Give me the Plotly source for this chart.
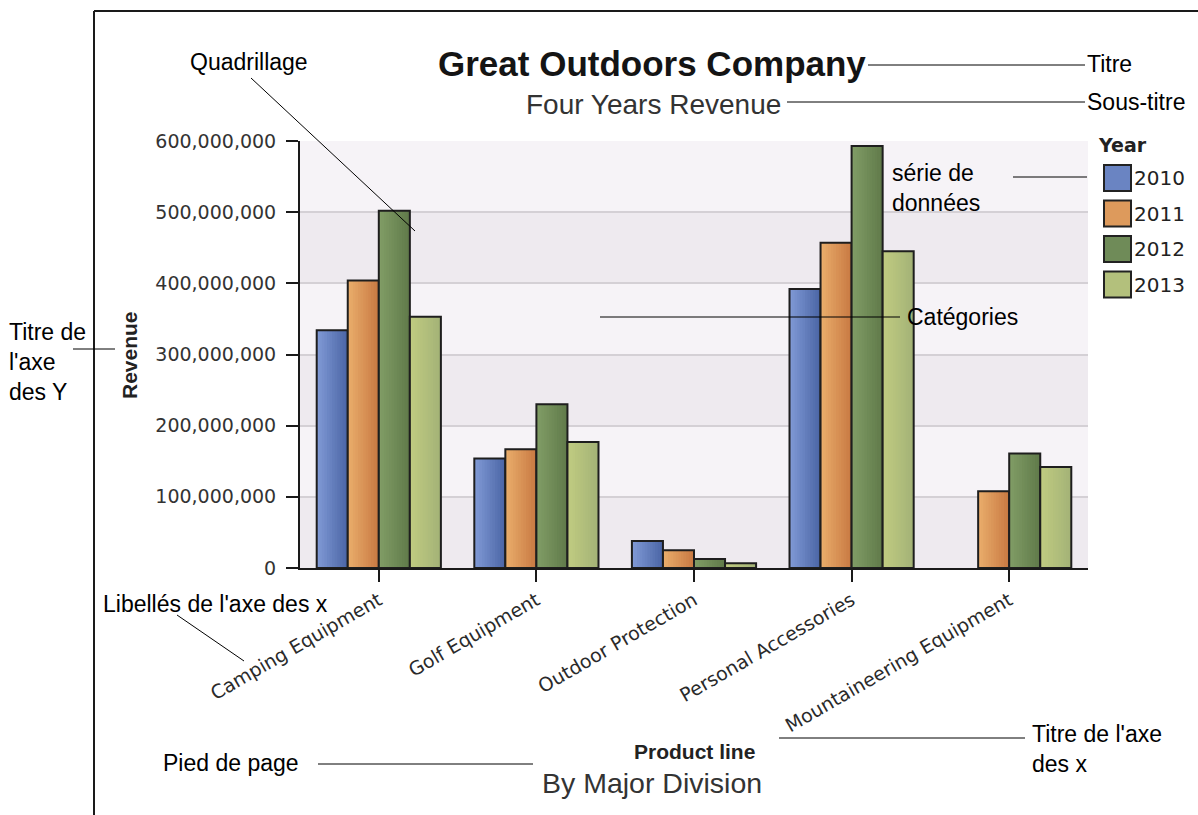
import plotly.graph_objects as go

# ---- data -----------------------------------------------------------------
categories = ["Camping Equipment", "Golf Equipment", "Outdoor Protection",
              "Personal Accessories", "Mountaineering Equipment"]
years = ["2010", "2011", "2012", "2013"]
rev_2010 = [334e6, 154e6, 38e6, 392e6, None]
rev_2011 = [404e6, 167e6, 25e6, 457e6, 108e6]
rev_2012 = [502e6, 230e6, 12.6e6, 593e6, 161e6]
rev_2013 = [353e6, 177e6, 6.6e6, 445e6, 142e6]
y_ticks = [0, 100e6, 200e6, 300e6, 400e6, 500e6, 600e6]

series = [rev_2010, rev_2011, rev_2012, rev_2013]

# ---- styling --------------------------------------------------------------
# (left, right) colours of the horizontal gradient on each series' bars
gradients = [("#7f98d4", "#4c67a7"),
             ("#e9ac6a", "#c97b44"),
             ("#809c65", "#617b4b"),
             ("#c0cb81", "#a4b377")]
swatch = ["#6a84c2", "#dd9a5c", "#6f8b58", "#b3c07c"]

W, H = 1198, 815
PL, PR, PT, PB = 300, 1088, 141, 568          # plot area in page pixels
BAR_W = 0.197                                  # bar width in category units
N_STRIPS = 12


def fx(px):
    return (px - PL) / (PR - PL)


def fy(py):
    return (PB - py) / (PB - PT)


def lerp(c1, c2, t):
    a = [int(c1[i:i + 2], 16) for i in (1, 3, 5)]
    b = [int(c2[i:i + 2], 16) for i in (1, 3, 5)]
    return "rgb(%d,%d,%d)" % tuple(round(a[j] + (b[j] - a[j]) * t) for j in range(3))


fig = go.Figure()

for i, (name, vals) in enumerate(zip(years, series)):
    base_off = -2 * BAR_W + i * BAR_W
    light, dark = gradients[i]
    # gradient fill: successively narrower, darker bars stacked from the left
    for k in range(N_STRIPS):
        step = k * BAR_W / N_STRIPS
        fig.add_trace(go.Bar(
            x=categories, y=vals, name=name,
            offset=base_off + step, width=BAR_W - step,
            marker=dict(color=lerp(light, dark, k / (N_STRIPS - 1)), line=dict(width=0)),
            showlegend=False, hoverinfo="skip"))
    # outline
    fig.add_trace(go.Bar(
        x=categories, y=vals, name=name,
        offset=base_off, width=BAR_W,
        marker=dict(color="rgba(0,0,0,0)", line=dict(color="#1e1e1e", width=2)),
        showlegend=False))

shapes = []
# alternating background bands
for j in range(0, len(y_ticks) - 1, 2):
    shapes.append(dict(type="rect", xref="paper", yref="y", x0=0, x1=1,
                       y0=y_ticks[j], y1=y_ticks[j + 1],
                       fillcolor="#eeeaef", line=dict(width=0), layer="below"))

# outer frame
shapes.append(dict(type="line", xref="paper", yref="paper",
                   x0=fx(94), x1=fx(W + 5), y0=fy(11), y1=fy(11),
                   line=dict(color="#1a1a1a", width=2)))
shapes.append(dict(type="line", xref="paper", yref="paper",
                   x0=fx(94), x1=fx(94), y0=fy(11), y1=fy(H + 5),
                   line=dict(color="#1a1a1a", width=2)))

# callout leader lines
leaders = [
    ((868, 65), (1085, 65)),
    ((787, 102), (1085, 102)),
    ((1013, 177), (1087, 177)),
    ((600, 317), (900, 317)),
    ((251, 78), (415, 231)),
    ((73, 349), (115, 349)),
    ((177, 615), (244, 661)),
    ((318, 764), (533, 764)),
    ((779, 738), (1025, 738)),
]
for (x0, y0), (x1, y1) in leaders:
    shapes.append(dict(type="line", xref="paper", yref="paper",
                       x0=fx(x0), y0=fy(y0), x1=fx(x1), y1=fy(y1),
                       line=dict(color="#000000", width=1)))

# legend swatches
for i in range(len(years)):
    cy = 178 + i * 35.5
    shapes.append(dict(type="rect", xref="paper", yref="paper",
                       x0=fx(1104), x1=fx(1131), y0=fy(cy - 13), y1=fy(cy + 13),
                       fillcolor=swatch[i], line=dict(color="#222222", width=2)))

annotations = []


def note(text, x, y, size, color="#000000", family="Liberation Sans, Arial, sans-serif",
         xanchor="left", angle=0, yanchor="middle", align="left"):
    annotations.append(dict(text=text, x=fx(x), y=fy(y), xref="paper", yref="paper",
                            xanchor=xanchor, yanchor=yanchor, showarrow=False,
                            textangle=angle, align=align, borderpad=0,
                            font=dict(size=size, color=color, family=family)))


# titles
note("<b>Great Outdoors Company</b>", 652, 63, 35, "#141414", xanchor="center")
note("Four Years Revenue", 653, 105, 28, "#333333", xanchor="center")
note("<b>Product line</b>", 694, 751, 21, "#222222", xanchor="center")
note("By Major Division", 652, 783, 28.5, "#333333", xanchor="center")
note("<b>Revenue</b>", 129, 355, 21, "#222222", xanchor="center", angle=-90)

# legend
note("<b>Year</b>", 1097, 145, 19, "#222222", family="DejaVu Sans, sans-serif")
for i, name in enumerate(years):
    note(name, 1133, 178 + i * 35.5, 20, "#222222", family="DejaVu Sans, sans-serif")

# callout labels
note("Titre", 1086, 64, 23)
note("Sous-titre", 1086, 102, 23)
note("série de<br>données", 891, 188, 23)
note("Catégories", 906, 317, 23)
note("Quadrillage", 249, 62, 23, xanchor="center")
note("Titre de<br>l'axe<br>des Y", 8, 362, 23)
note("Libellés de l'axe des x", 102, 604, 23)
note("Pied de page", 162, 763, 23)
note("Titre de l'axe<br>des x", 1031, 749, 23)

fig.update_layout(
    width=W, height=H, autosize=False,
    margin=dict(l=PL, r=W - PR, t=PT, b=H - PB, pad=0),
    paper_bgcolor="#ffffff", plot_bgcolor="#f6f3f7",
    barmode="overlay", showlegend=False,
    shapes=shapes, annotations=annotations,
    xaxis=dict(type="category", range=[-0.5, len(categories) - 0.5],
               showgrid=False, showline=True, linecolor="#1a1a1a", linewidth=2,
               ticks="outside", ticklen=12, tickwidth=2, tickcolor="#1a1a1a",
               tickangle=-30, zeroline=False,
               tickfont=dict(family="DejaVu Sans, sans-serif", size=19, color="#2a2a2a")),
    yaxis=dict(range=[0, 600e6], tickvals=y_ticks, tickformat=",",
               showgrid=True, gridcolor="#d4d0d5", gridwidth=1.5,
               showline=True, linecolor="#1a1a1a", linewidth=2,
               ticks="outside", ticklen=12, tickwidth=2, tickcolor="#1a1a1a",
               ticklabelstandoff=6, zeroline=False,
               tickfont=dict(family="DejaVu Sans, sans-serif", size=19, color="#333333")),
)

fig.write_html("out.html")
